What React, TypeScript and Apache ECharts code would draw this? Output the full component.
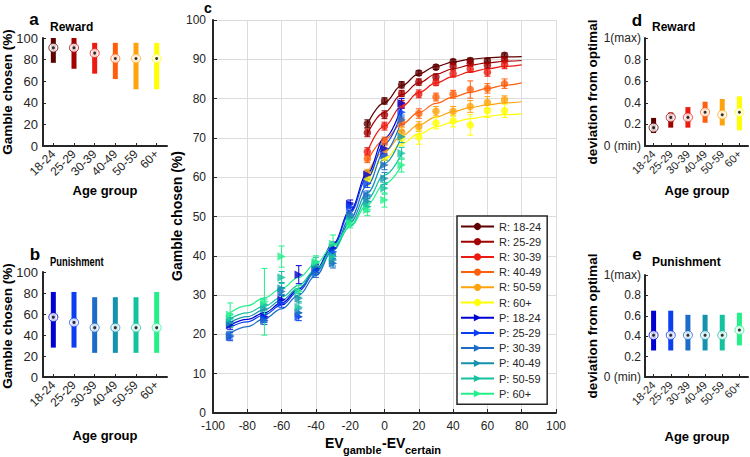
import React, { useEffect, useRef } from 'react';
import * as echarts from 'echarts';

const FONT = '"Liberation Sans", Arial, Helvetica, sans-serif';
const TXT = '#262626';

const ageGroups = ['18-24', '25-29', '30-39', '40-49', '50-59', '60+'];
const rewardColors = ['#5e0000', '#a30000', '#ec1a10', '#ff5f0d', '#ffa30d', '#ffff00'];
const punishColors = ['#0000d2', '#0a3ef0', '#1c6cc8', '#1592ae', '#14c2a0', '#24f08a'];
const rewardNames = ageGroups.map((g) => 'R: ' + g);
const punishNames = ageGroups.map((g) => 'P: ' + g);

// panel a: gamble chosen (%) in reward trials
const rewardChoiceLow = [77, 71.5, 67, 62, 52.5, 52.5];
const rewardChoiceHigh = [100, 100, 95.5, 95.5, 95.5, 95.5];
const rewardChoiceMedian = [91, 91, 86, 81, 81, 81];
// panel b: gamble chosen (%) in punishment trials
const punishChoiceLow = [28, 28, 23, 23, 23, 23];
const punishChoiceHigh = [81, 81, 76, 76, 76, 81];
const punishChoiceMedian = [57, 52, 47, 47, 47, 47];
// panel d: deviation from optimal, reward
const rewardDevLow = [0.12, 0.17, 0.17, 0.215, 0.19, 0.145];
const rewardDevHigh = [0.26, 0.31, 0.36, 0.41, 0.435, 0.46];
const rewardDevMedian = [0.17, 0.265, 0.265, 0.313, 0.29, 0.313];
// panel e: deviation from optimal, punishment
const punishDevLow = [0.26, 0.26, 0.26, 0.26, 0.26, 0.31];
const punishDevHigh = [0.65, 0.65, 0.61, 0.61, 0.61, 0.63];
const punishDevMedian = [0.41, 0.41, 0.41, 0.41, 0.41, 0.46];

// panel c: x positions
const rewardX = [-10, 0, 10, 20, 30, 40, 50, 60, 70];
const punishX = [-90, -70, -60, -50, -40, -30, -20, -10, 0, 10];
const rewardFitX = [-10, 0, 10, 20, 30, 40, 50, 60, 70, 80];
const punishFitX = [-90, -80, -70, -60, -50, -40, -30, -20, -10, 0, 10];

// reward means
const r1824 = [73.6, 79.4, 83.5, 86.5, 88.0, 89.4, 89.7, 89.6, 91.0];
const r2529 = [71.3, 75.9, 81.3, 84.2, 85.5, 88.3, 89.0, 88.5, 89.9];
const r3039 = [66.5, 73.0, 78.5, 81.2, 84.1, 86.3, 87.5, 86.7, 88.6];
const r4049 = [64.7, 69.2, 74.0, 76.2, 80.4, 81.1, 82.3, 82.6, 83.8];
const r5059 = [61.0, 67.0, 71.5, 72.9, 76.8, 76.8, 78.0, 79.0, 79.7];
const r60 = [59.5, 65.0, 70.0, 70.2, 73.8, 74.3, 73.3, 76.9, 76.9];
// reward error half-widths
const rErr1824 = [1, 0.8, 0.8, 0.6, 0.6, 0.6, 0.6, 0.6, 0.6];
const rErr2529 = [1, 1, 0.8, 0.8, 0.8, 0.8, 0.8, 0.8, 0.8];
const rErr3039 = [1, 1, 1, 1, 0.8, 0.8, 0.8, 1, 1];
const rErr4049 = [1, 1, 1, 1.2, 1, 1, 2.2, 1.2, 1.2];
const rErr5059 = [1, 1.2, 1.2, 1.2, 1.2, 1.2, 1.5, 1.5, 1];
const rErr60 = [1.5, 2, 2, 1.8, 1.5, 1.5, 2.6, 1.7, 1.7];
// reward fitted curves
const rFit1824 = [73.5, 79.0, 83.3, 86.3, 88.2, 89.3, 90.0, 90.4, 90.6, 90.7];
const rFit2529 = [71.0, 76.5, 81.0, 84.0, 86.2, 87.6, 88.5, 89.1, 89.5, 89.7];
const rFit3039 = [66.5, 73.0, 78.0, 81.5, 84.0, 85.6, 86.8, 87.6, 88.2, 88.6];
const rFit4049 = [64.0, 69.5, 73.5, 76.5, 78.8, 80.4, 81.6, 82.6, 83.4, 84.0];
const rFit5059 = [61.0, 66.5, 70.5, 73.3, 75.3, 76.7, 77.7, 78.4, 78.9, 79.2];
const rFit60 = [59.0, 64.5, 68.5, 71.0, 72.8, 74.0, 74.9, 75.5, 75.9, 76.1];

// punishment means
const p1824 = [22.3, 24.5, 28.8, 35.2, 36.8, 42.0, 53.2, 60.6, 67.3, 78.8];
const p2529 = [19.4, 24.0, 27.9, 24.5, 36.2, 41.0, 52.5, 58.4, 65.6, 76.5];
const p3039 = [19.8, 23.5, 30.9, 25.5, 35.5, 38.1, 50.4, 55.5, 63.1, 74.6];
const p4049 = [23.0, 26.5, 31.7, 29.2, 37.4, 38.9, 49.8, 53.8, 59.7, 70.3];
const p5059 = [24.0, 27.5, 34.5, 26.9, 38.1, 39.8, 48.9, 52.5, 57.2, 66.1];
const p60 = [25.0, 28.3, 39.8, 31.0, 38.5, 43.0, 48.3, 51.7, 54.2, 63.1];
// punishment error half-widths
const pErr1824 = [1, 1, 1.2, 2.3, 1, 1.5, 1, 1, 1.2, 1.2];
const pErr2529 = [1, 1, 1, 1, 1, 1, 1, 1, 1.2, 1.2];
const pErr3039 = [1, 1, 1, 1, 1, 1.2, 1, 1, 1.2, 1.2];
const pErr4049 = [1.2, 1.2, 1.5, 1.2, 1.2, 1.5, 1, 1.2, 1.5, 1.5];
const pErr5059 = [1.2, 1.5, 1.5, 1.5, 1.5, 1.8, 1, 1.3, 1.5, 1.5];
const pErr60 = [3, 8.5, 2.7, 1.5, 1.5, 2.3, 1.2, 1.5, 1.8, 1.8];
// punishment fitted curves
const pFit1824 = [22.3, 23.8, 25.5, 28.0, 31.5, 36.5, 43.0, 51.5, 61.0, 70.0, 78.0];
const pFit2529 = [21.8, 23.2, 25.0, 27.5, 31.0, 36.0, 42.5, 51.0, 60.0, 68.5, 76.5];
const pFit3039 = [20.3, 22.0, 24.0, 26.5, 30.0, 35.0, 41.5, 49.5, 58.0, 66.5, 74.5];
const pFit4049 = [23.0, 24.5, 26.3, 28.7, 31.8, 36.0, 41.5, 48.5, 56.0, 63.5, 70.5];
const pFit5059 = [24.0, 25.5, 27.2, 29.5, 32.5, 36.5, 41.5, 47.5, 54.5, 60.5, 66.0];
const pFit60 = [25.5, 27.3, 29.3, 31.7, 34.5, 38.0, 42.5, 47.5, 53.0, 58.3, 63.0];

const rewardMeans = [r1824, r2529, r3039, r4049, r5059, r60];
const rewardErrs = [rErr1824, rErr2529, rErr3039, rErr4049, rErr5059, rErr60];
const rewardFits = [rFit1824, rFit2529, rFit3039, rFit4049, rFit5059, rFit60];
const punishMeans = [p1824, p2529, p3039, p4049, p5059, p60];
const punishErrs = [pErr1824, pErr2529, pErr3039, pErr4049, pErr5059, pErr60];
const punishFits = [pFit1824, pFit2529, pFit3039, pFit4049, pFit5059, pFit60];

function rangeSeries(gi: number, low: number[], high: number[], med: number[], colors: string[]) {
  return [
    {
      type: 'custom',
      xAxisIndex: gi,
      yAxisIndex: gi,
      encode: { x: 0, y: [1, 2] },
      data: ageGroups.map((g, i) => [i, low[i], high[i]]),
      renderItem: (params: any, api: any) => {
        const x = api.value(0);
        const p1 = api.coord([x, api.value(1)]);
        const p2 = api.coord([x, api.value(2)]);
        return {
          type: 'rect',
          shape: { x: p1[0] - 2.5, y: p2[1], width: 5, height: p1[1] - p2[1] },
          style: { fill: colors[params.dataIndex] },
        };
      },
      z: 2,
    },
    {
      type: 'scatter',
      xAxisIndex: gi,
      yAxisIndex: gi,
      symbol: 'circle',
      symbolSize: 9,
      data: ageGroups.map((g, i) => ({
        value: [i, med[i]],
        itemStyle: { color: '#ffffff', borderColor: colors[i], borderWidth: 1 },
      })),
      z: 3,
    },
    {
      type: 'scatter',
      xAxisIndex: gi,
      yAxisIndex: gi,
      symbol: 'circle',
      symbolSize: 3,
      itemStyle: { color: '#000' },
      data: ageGroups.map((g, i) => [i, med[i]]),
      z: 4,
    },
  ];
}

function errorBarSeries(xs: number[], ys: number[], errs: number[], color: string, name: string) {
  return {
    type: 'custom',
    name: name + ' err',
    xAxisIndex: 2,
    yAxisIndex: 2,
    encode: { x: 0, y: [1, 2] },
    data: xs.map((x, i) => [x, ys[i] - errs[i], ys[i] + errs[i]]),
    renderItem: (params: any, api: any) => {
      const x = api.value(0);
      const lo = api.coord([x, api.value(1)]);
      const hi = api.coord([x, api.value(2)]);
      const w = 3;
      const style = { stroke: color, lineWidth: 1, fill: null };
      return {
        type: 'group',
        children: [
          { type: 'line', shape: { x1: lo[0], y1: lo[1], x2: hi[0], y2: hi[1] }, style },
          { type: 'line', shape: { x1: lo[0] - w, y1: lo[1], x2: lo[0] + w, y2: lo[1] }, style },
          { type: 'line', shape: { x1: hi[0] - w, y1: hi[1], x2: hi[0] + w, y2: hi[1] }, style },
        ],
      };
    },
    z: 3,
  };
}

function buildOption() {
  const catX = (gi: number, fs: number) => ({
    type: 'category',
    gridIndex: gi,
    data: ageGroups,
    boundaryGap: true,
    axisLine: { lineStyle: { color: TXT, width: 2 } },
    axisTick: { show: true, inside: true, length: 3, alignWithLabel: true, interval: 0, lineStyle: { color: TXT } },
    axisLabel: { rotate: 45, interval: 0, fontSize: fs, color: TXT, margin: 6, fontFamily: FONT },
    splitLine: { show: false },
  });
  const choiceY = (gi: number) => ({
    type: 'value',
    gridIndex: gi,
    min: 0,
    max: 100,
    interval: 20,
    axisLine: { show: true, lineStyle: { color: TXT, width: 2 } },
    axisTick: { show: true, inside: true, length: 3, lineStyle: { color: TXT } },
    axisLabel: { fontSize: 13, color: TXT, margin: 5, fontFamily: FONT },
    splitLine: { show: false },
  });
  const devY = (gi: number) => ({
    type: 'value',
    gridIndex: gi,
    min: 0,
    max: 1,
    interval: 0.2,
    axisLine: { show: true, lineStyle: { color: TXT, width: 2 } },
    axisTick: { show: true, inside: true, length: 3, lineStyle: { color: TXT } },
    axisLabel: {
      fontSize: 12,
      color: TXT,
      margin: 4,
      fontFamily: FONT,
      formatter: (v: number) => (v === 1 ? '1(max)' : v === 0 ? '0 (min)' : v.toFixed(1)),
    },
    splitLine: { show: false },
  });

  const series: any[] = [];
  series.push(...rangeSeries(0, rewardChoiceLow, rewardChoiceHigh, rewardChoiceMedian, rewardColors));
  series.push(...rangeSeries(1, punishChoiceLow, punishChoiceHigh, punishChoiceMedian, punishColors));
  series.push(...rangeSeries(3, rewardDevLow, rewardDevHigh, rewardDevMedian, rewardColors));
  series.push(...rangeSeries(4, punishDevLow, punishDevHigh, punishDevMedian, punishColors));

  // fitted lines (legend entries)
  rewardNames.forEach((name, k) => {
    series.push({
      type: 'line',
      name,
      xAxisIndex: 2,
      yAxisIndex: 2,
      data: rewardFitX.map((x, i) => [x, rewardFits[k][i]]),
      smooth: 0.4,
      smoothMonotone: 'x',
      showSymbol: false,
      symbol: 'circle',
      itemStyle: { color: rewardColors[k] },
      lineStyle: { color: rewardColors[k], width: 1.2 },
      z: 2,
    });
  });
  punishNames.forEach((name, k) => {
    series.push({
      type: 'line',
      name,
      xAxisIndex: 2,
      yAxisIndex: 2,
      data: punishFitX.map((x, i) => [x, punishFits[k][i]]),
      smooth: 0.4,
      smoothMonotone: 'x',
      showSymbol: false,
      symbol: 'triangle',
      symbolRotate: -90,
      itemStyle: { color: punishColors[k] },
      lineStyle: { color: punishColors[k], width: 1.2 },
      z: 2,
    });
  });
  rewardNames.forEach((name, k) => {
    series.push(errorBarSeries(rewardX, rewardMeans[k], rewardErrs[k], rewardColors[k], name));
    series.push({
      type: 'scatter',
      name: name + ' mean',
      xAxisIndex: 2,
      yAxisIndex: 2,
      symbol: 'circle',
      symbolSize: 7.5,
      itemStyle: { color: rewardColors[k] },
      data: rewardX.map((x, i) => [x, rewardMeans[k][i]]),
      z: 4,
    });
  });
  punishNames.forEach((name, k) => {
    series.push(errorBarSeries(punishX, punishMeans[k], punishErrs[k], punishColors[k], name));
    series.push({
      type: 'scatter',
      name: name + ' mean',
      xAxisIndex: 2,
      yAxisIndex: 2,
      symbol: 'triangle',
      symbolRotate: -90,
      symbolSize: 8.5,
      itemStyle: { color: punishColors[k] },
      data: punishX.map((x, i) => [x, punishMeans[k][i]]),
      z: 4,
    });
  });

  const t = (text: string, x: number, y: number, size: number, extra: any = {}) => ({
    type: 'text',
    x,
    y,
    silent: true,
    ...extra,
    style: {
      text,
      fontSize: size,
      fontWeight: 'bold',
      fontFamily: FONT,
      fill: '#000',
      align: extra.align || 'center',
      verticalAlign: 'middle',
    },
  });
  const rot = { rotation: Math.PI / 2 };

  const graphic = [
    t('a', 34, 19, 17),
    t('b', 35, 254, 17),
    t('c', 208, 8, 14),
    t('d', 637, 20, 17),
    t('e', 637, 254, 17),
    t('Reward', 50, 27, 12, { align: 'left' }),
    t('Punishment', 50, 262, 12, { align: 'left', scaleX: 0.78 }),
    t('Reward', 652, 26.5, 12, { align: 'left' }),
    t('Punishment', 652, 261.5, 12, { align: 'left' }),
    t('Gamble chosen (%)', 7, 92, 13.5, rot),
    t('Gamble chosen (%)', 7, 326, 13.5, rot),
    t('Gamble chosen (%)', 177, 216, 14, rot),
    t('deviation from optimal', 592, 92, 13.5, rot),
    t('deviation from optimal', 592, 326, 13.5, rot),
    t('Age group', 105, 190, 13),
    t('Age group', 105, 435, 13),
    t('Age group', 697, 190, 13),
    t('Age group', 697, 436, 13),
    t('EV', 325, 443, 14, { align: 'left' }),
    t('gamble', 343, 450, 11, { align: 'left' }),
    t('-EV', 382, 443, 14, { align: 'left' }),
    t('certain', 405, 450, 11, { align: 'left' }),
  ];

  return {
    animation: false,
    backgroundColor: '#ffffff',
    textStyle: { fontFamily: FONT },
    grid: [
      { left: 43, top: 38, width: 124, height: 108 },
      { left: 43, top: 272, width: 124, height: 105 },
      { left: 213, top: 20, width: 343, height: 393 },
      { left: 645, top: 38, width: 103, height: 108 },
      { left: 645, top: 275, width: 103, height: 102 },
    ],
    xAxis: [
      catX(0, 12),
      catX(1, 12),
      {
        type: 'value',
        gridIndex: 2,
        min: -100,
        max: 100,
        interval: 20,
        axisLine: { onZero: false, lineStyle: { color: TXT, width: 2 } },
        axisTick: { show: true, inside: true, length: 4, lineStyle: { color: TXT } },
        axisLabel: { fontSize: 12, color: TXT, margin: 7, fontFamily: FONT },
        splitLine: { show: true, lineStyle: { color: '#dcdcdc', width: 1 } },
      },
      catX(3, 11),
      catX(4, 11),
    ],
    yAxis: [
      choiceY(0),
      choiceY(1),
      {
        type: 'value',
        gridIndex: 2,
        min: 0,
        max: 100,
        interval: 10,
        axisLine: { show: true, onZero: false, lineStyle: { color: TXT, width: 2 } },
        axisTick: { show: true, inside: true, length: 4, lineStyle: { color: TXT } },
        axisLabel: { fontSize: 12, color: TXT, margin: 7, fontFamily: FONT },
        splitLine: { show: true, lineStyle: { color: '#dcdcdc', width: 1 } },
      },
      devY(3),
      devY(4),
    ],
    legend: {
      data: [...rewardNames, ...punishNames],
      orient: 'vertical',
      left: 457,
      top: 216,
      backgroundColor: '#ffffff',
      borderColor: TXT,
      borderWidth: 1.5,
      padding: [5, 6, 5, 3],
      itemWidth: 33,
      itemHeight: 9,
      itemGap: 4.2,
      selectedMode: false,
      textStyle: { fontSize: 11, color: TXT, fontFamily: FONT, lineHeight: 11 },
      z: 10,
    },
    graphic,
    series,
  };
}

export default function App() {
  const ref = useRef<HTMLDivElement>(null);
  useEffect(() => {
    const chart = echarts.init(ref.current as HTMLDivElement, undefined, { renderer: 'svg' });
    chart.setOption(buildOption() as any);
    return () => chart.dispose();
  }, []);
  return <div ref={ref} style={{ position: 'absolute', left: 0, top: 0, width: 750, height: 457 }} />;
}
